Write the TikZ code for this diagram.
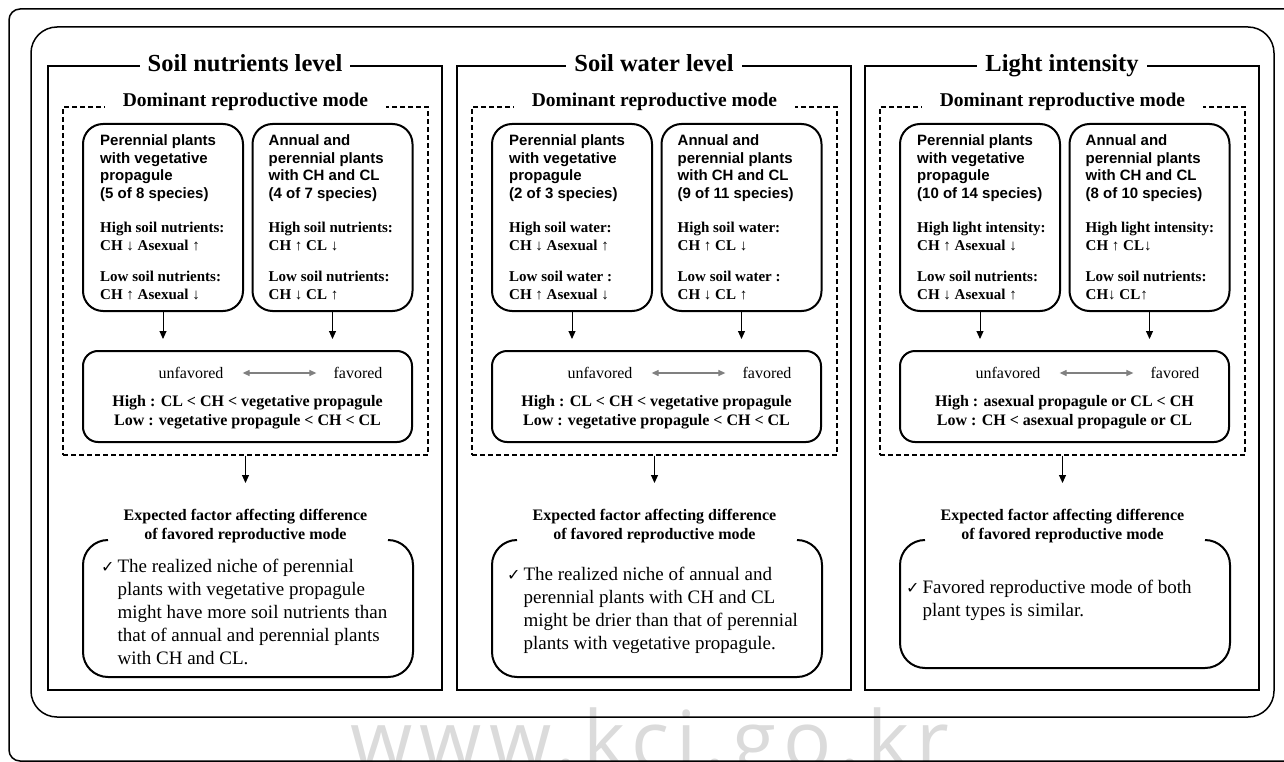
\documentclass[tikz,border=0pt]{standalone}
\usepackage{fontspec}
\setmainfont{Liberation Serif}
\setsansfont{Liberation Sans}
\newfontfamily\dejavu{DejaVu Sans}
\newfontfamily\wmfont[LetterSpace=9]{Open Sans}
\usetikzlibrary{arrows.meta}
\newcommand\chk{{\dejavu\fontsize{16}{16}\selectfont ✓}}
\newcommand\sfl{\sffamily}
\newcommand\rml{\rmfamily}
\tikzset{
 outerframe/.style={draw, line width=1.5pt},
 panelbox/.style={draw, line width=1.3pt, inner sep=0pt},
 dashbox/.style={draw, line width=1.3pt, dash pattern=on 5pt off 3pt, inner sep=0pt},
 ptitle/.style={fill=white, anchor=base, inner xsep=8pt, inner ysep=3pt, font=\rmfamily\bfseries\fontsize{24.5}{29}\selectfont},
 dtitle/.style={fill=white, anchor=base, inner xsep=18pt, inner ysep=3pt, font=\rmfamily\bfseries\fontsize{19.5}{23}\selectfont},
 plantbox/.style={draw, line width=2pt, rounded corners=20pt, minimum width=160pt, minimum height=187pt, inner sep=0pt},
 planttext/.style={anchor=west, align=left, inner sep=0pt, font=\rmfamily\bfseries\fontsize{15}{17.5}\selectfont},
 favbox/.style={draw, line width=2pt, rounded corners=15pt, minimum width=329pt, minimum height=91pt, inner sep=0pt},
 favword/.style={inner sep=0pt, font=\rmfamily\fontsize{16}{19}\selectfont},
 favtext/.style={align=center, inner sep=0pt, font=\rmfamily\bfseries\fontsize{16}{19}\selectfont},
 exptitle/.style={align=center, inner sep=0pt, font=\rmfamily\bfseries\fontsize{16}{19}\selectfont},
 openbox/.style={line width=2pt, rounded corners=25pt},
 bottomtext/.style={anchor=west, inner sep=0pt, font=\rmfamily\fontsize{19}{23}\selectfont},
 arr/.style={draw, line width=1pt, -{Triangle[length=8pt,width=7pt]}},
 grayarr/.style={draw=black!50, line width=1.2pt, {Triangle[length=7pt,width=6pt]}-{Triangle[length=7pt,width=6pt]}},
}
\newcommand\drawpanel[2]{%
\begin{scope}[xshift=#2]
\node[panelbox, minimum width=394pt, minimum height=624pt] (#1panel) at (197,378) {};
\node[ptitle] (#1title) at (197,72) {\ptxt};
\node[dashbox, minimum width=365pt, minimum height=348pt] (#1dash) at (197.5,281) {};
\node[dtitle] (#1dtitle) at (197.5,107) {Dominant reproductive mode};
\node[plantbox] (#1A) at (115,217.5) {};
\node[plantbox] (#1B) at (284.5,217.5) {};
\node[planttext] (#1At) at ([xshift=18pt]#1A.west) {\atxt};
\node[planttext] (#1Bt) at ([xshift=17pt]#1B.west) {\btxt};
\node[favbox] (#1F) at (199.5,396.5) {};
\node[favword] (#1uf) at (143,373) {unfavored};
\node[favword] (#1fv) at (310,373) {favored};
\draw[grayarr, shorten <=19pt, shorten >=17pt] (#1uf.east) -- (#1fv.west);
\node[favtext] (#1hl) at (199.5,412.5) {\hltxt};
\draw[arr, shorten >=11pt] (#1A.south) -- (#1A.south |- #1F.north);
\draw[arr, shorten >=11pt] (#1B.south) -- (#1B.south |- #1F.north);
\coordinate (#1tip) at (197.5,483);
\draw[arr] (#1dash.south) -- (#1tip);
\node[exptitle] (#1exp) at (197.5,526.5) {Expected factor affecting difference\\of favored reproductive mode};
\draw[openbox] (60,540) -- (35,540) -- (35,\pbot) -- (365,\pbot) -- (365,540) -- (340,540);
\node[bottomtext] (#1bt) at (\pcx,\pcy) {\btab};
\end{scope}}
\begin{document}
\begin{tikzpicture}[x=1pt,y=-1pt]
\useasboundingbox (0,0) rectangle (1284,762);
\node[text=black!14, anchor=base, inner sep=0pt, font=\wmfont\fontsize{80}{80}\selectfont] (wm) at (650,768) {www.kci.go.kr};
\draw[outerframe, rounded corners=11pt] (9,9) rectangle (1300,761);
\draw[outerframe, rounded corners=26pt] (31,27) rectangle (1274,717);
% panel 1
\def\ptxt{Soil nutrients level}
\def\atxt{\sfl Perennial plants\\\sfl with vegetative\\\sfl propagule\\\sfl (5 of 8 species)\\[17pt]\rml High soil nutrients:\\\rml CH ↓ Asexual ↑\\[14pt]\rml Low soil nutrients:\\\rml CH ↑ Asexual ↓}
\def\btxt{\sfl Annual and\\\sfl perennial plants\\\sfl with CH and CL\\\sfl (4 of 7 species)\\[17pt]\rml High soil nutrients:\\\rml CH ↑ CL ↓\\[14pt]\rml Low soil nutrients:\\\rml CH ↓ CL ↑}
\def\hltxt{High : CL < CH < vegetative propagule\\Low : vegetative propagule < CH < CL}
\def\pbot{677}\def\pcx{53}\def\pcy{614}
\def\btab{\begin{tabular}{@{}l@{\hspace{3pt}}l@{}}\chk & The realized niche of perennial\\ & plants with vegetative propagule\\ & might have more soil nutrients than\\ & that of annual and perennial plants\\ & with CH and CL.\end{tabular}}
\drawpanel{p}{48}
% panel 2
\def\ptxt{Soil water level}
\def\atxt{\sfl Perennial plants\\\sfl with vegetative\\\sfl propagule\\\sfl (2 of 3 species)\\[17pt]\rml High soil water:\\\rml CH ↓ Asexual ↑\\[14pt]\rml Low soil water :\\\rml CH ↑ Asexual ↓}
\def\btxt{\sfl Annual and\\\sfl perennial plants\\\sfl with CH and CL\\\sfl (9 of 11 species)\\[17pt]\rml High soil water:\\\rml CH ↑ CL ↓\\[14pt]\rml Low soil water :\\\rml CH ↓ CL ↑}
\def\hltxt{High : CL < CH < vegetative propagule\\Low : vegetative propagule < CH < CL}
\def\pbot{677}\def\pcx{50}\def\pcy{610}
\def\btab{\begin{tabular}{@{}l@{\hspace{3pt}}l@{}}\chk & The realized niche of annual and\\ & perennial plants with CH and CL\\ & might be drier than that of perennial\\ & plants with vegetative propagule.\end{tabular}}
\drawpanel{q}{457}
% panel 3
\def\ptxt{Light intensity}
\def\atxt{\sfl Perennial plants\\\sfl with vegetative\\\sfl propagule\\\sfl (10 of 14 species)\\[17pt]\rml High light intensity:\\\rml CH ↑ Asexual ↓\\[14pt]\rml Low soil nutrients:\\\rml CH ↓ Asexual ↑}
\def\btxt{\sfl Annual and\\\sfl perennial plants\\\sfl with CH and CL\\\sfl (8 of 10 species)\\[17pt]\rml High light intensity:\\\rml CH ↑ CL↓\\[14pt]\rml Low soil nutrients:\\\rml CH↓ CL↑}
\def\hltxt{High : asexual propagule or CL < CH\\Low : CH < asexual propagule or CL}
\def\pbot{668}\def\pcx{41}\def\pcy{600}
\def\btab{\begin{tabular}{@{}l@{\hspace{3pt}}l@{}}\chk & Favored reproductive mode of both\\ & plant types is similar.\end{tabular}}
\drawpanel{r}{865}
\end{tikzpicture}
\end{document}
